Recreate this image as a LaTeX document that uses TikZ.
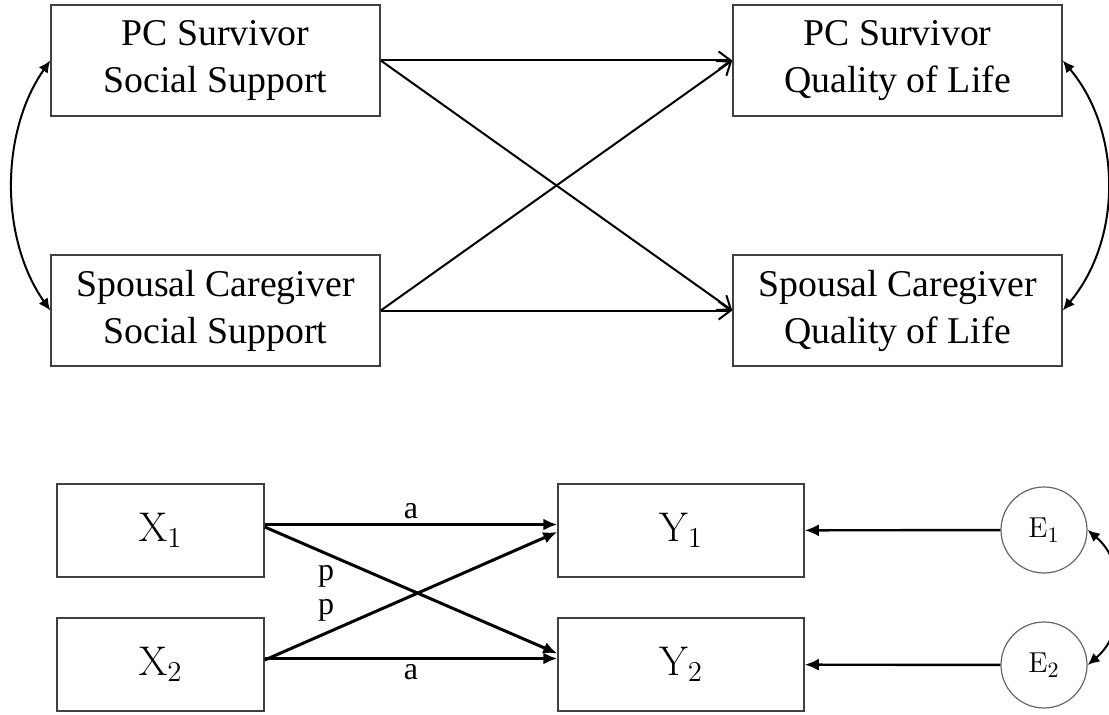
\documentclass[tikz,border=0pt]{standalone}
\usepackage[no-math]{fontspec}
\setmainfont{Liberation Serif}
\usetikzlibrary{shapes,arrows.meta,positioning}
\tikzstyle{bignode} = [rectangle, draw=black!75, line width=0.75pt, minimum width=164.5pt, minimum height=55.5pt, inner sep=0pt, align=center, font=\fontsize{18.9}{23.5}\selectfont]
\tikzstyle{varnode} = [rectangle, draw=black!75, line width=0.75pt, minimum height=46.5pt, inner sep=0pt, font=\fontsize{20.5}{24}\selectfont]
\tikzstyle{errnode} = [circle, draw=black!60, line width=0.6pt, minimum size=43pt, inner sep=0pt, font=\fontsize{15}{17}\selectfont]
\tikzstyle{line} = [draw, line width=1pt, -{Straight Barb[length=6pt,width=9pt]}]
\tikzstyle{effect} = [draw, line width=1.5pt, -{Latex[length=7pt,width=6pt]}]
\tikzstyle{cov} = [draw, line width=1pt, {Latex[length=6pt,width=5.5pt]}-{Latex[length=6pt,width=5.5pt]}]
\tikzstyle{lab} = [inner sep=2pt, font=\fontsize{16}{18}\selectfont]

\begin{document}
\begin{tikzpicture}[x=50pt, y=50pt]
	\useasboundingbox (0,0) rectangle (11.09,7.14);

	% upper model
	\node [bignode] (sss) at (2.155, 6.535) {PC Survivor\\Social Support};
	\node [bignode] (css) at (2.155, 4.035) {Spousal Caregiver\\Social Support};
	\node [bignode] (sql) at (8.975, 6.535) {PC Survivor\\Quality of Life};
	\node [bignode] (cql) at (8.975, 4.035) {Spousal Caregiver\\Quality of Life};

	\path [line] (sss) -- (sql);
	\path [line] (sss.east) -- (cql.west);
	\path [line] (css.east) -- (sql.west);
	\path [line] (css) -- (cql);
	\path [cov] (sss.west) to [bend right=35, looseness=0.9] (css.west);
	\path [cov] (sql.east) to [bend left=40, looseness=0.95] (cql.east);

	% lower model
	\node [varnode, minimum width=103.5pt] (x1) at (1.605, 1.835) {$\mathrm{X}_1$};
	\node [varnode, minimum width=103.5pt] (x2) at (1.605, 0.495) {$\mathrm{X}_2$};
	\node [varnode, minimum width=123pt] (y1) at (6.81, 1.835) {$\mathrm{Y}_1$};
	\node [varnode, minimum width=123pt] (y2) at (6.81, 0.495) {$\mathrm{Y}_2$};
	\node [errnode] (e1) at (10.44, 1.84) {$\mathrm{E}_1$};
	\node [errnode] (e2) at (10.44, 0.49) {$\mathrm{E}_2$};

	\path [effect] ([yshift=3pt]x1.east) -- node [lab, above] (a1) {a} ([yshift=3pt]y1.west);
	\path [effect] ([yshift=1.75pt]x1.east) -- node [lab, pos=0.21, below=3pt] (p1) {p} ([yshift=5.5pt]y2.west);
	\path [effect] ([yshift=2.25pt]x2.east) -- node [lab, pos=0.21, above=3pt] (p2) {p} ([yshift=-0.75pt]y1.west);
	\path [effect] ([yshift=3pt]x2.east) -- node [lab, below] (a2) {a} ([yshift=3pt]y2.west);
	\path [effect, line width=1.2pt] (e1) -- (y1);
	\path [effect, line width=1.2pt] (e2) -- (y2);
	\path [cov] (e1.east) to [bend left=50] (e2.east);
\end{tikzpicture}
\end{document}
